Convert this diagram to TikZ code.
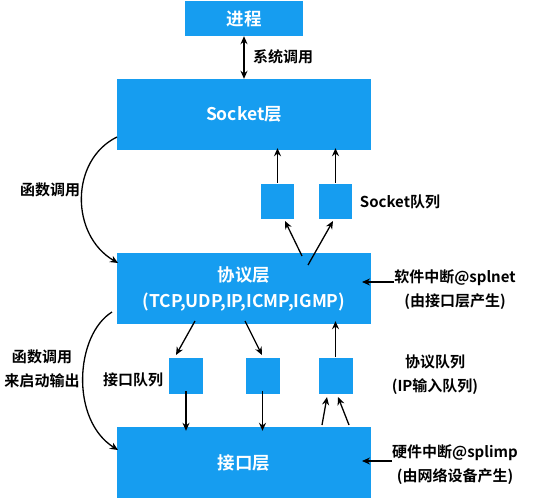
\documentclass[tikz,border=0pt]{standalone}
\usepackage{fontspec}
\setmainfont{Noto Sans CJK SC}[BoldFont={Noto Sans CJK SC Bold}]
\usetikzlibrary{arrows.meta}
\definecolor{boxblue}{RGB}{22,157,240}
\begin{document}
\begin{tikzpicture}[x=1pt,y=-1pt,
  layer/.style={fill=boxblue,draw=none,inner sep=0pt,text=white,font=\fontsize{17.5}{26}\selectfont\bfseries,align=center},
  qbox/.style={fill=boxblue,draw=none,inner sep=0pt,minimum width=33pt,minimum height=35pt},
  lbl/.style={inner sep=0pt,text=black,font=\fontsize{15}{24}\selectfont\bfseries,align=center},
  conn/.style={line width=1.3pt,-{Stealth[length=8pt,width=7pt]}},
  both/.style={line width=1.3pt,{Stealth[length=8pt,width=7pt]}-{Stealth[length=8pt,width=7pt]}}]
\useasboundingbox (0,0) rectangle (553,500);
% layer boxes
\node[layer,minimum width=118pt,minimum height=35pt] (proc) at (244,18.5) {进程};
\node[layer,minimum width=254pt,minimum height=71pt] (sock) at (244,114.5) {Socket层};
\node[layer,minimum width=254pt,minimum height=71pt] (proto) at (244,288.5) {协议层\\(TCP,UDP,IP,ICMP,IGMP)};
\node[layer,minimum width=254pt,minimum height=71pt] (iface) at (244,462.5) {接口层};
% queues
\node[qbox] (sq1) at (277.5,201.5) {};
\node[qbox] (sq2) at (335.5,201.5) {};
\node[qbox,minimum width=34pt,minimum height=36pt] (iq1) at (186,376) {};
\node[qbox,minimum width=34pt,minimum height=36pt] (iq2) at (262.5,376) {};
\node[qbox,minimum width=34pt,minimum height=36pt] (iq3) at (335.5,376) {};
% labels
\node[lbl] (lsys) at (283,57) {系统调用};
\node[lbl] (lfn1) at (50,190) {函数调用};
\node[lbl] (lsq) at (400,202) {Socket队列};
\node[lbl] (lsoft) at (455,289.5) {软件中断@splnet\\(由接口层产生)};
\node[lbl] (liq) at (133,380) {接口队列};
\node[lbl] (lfn2) at (42,368.5) {函数调用\\来启动输出};
\node[lbl] (lpq) at (435,375) {协议队列\\(IP输入队列)};
\node[lbl] (lhard) at (455,464.5) {硬件中断@splimp\\(由网络设备产生)};
% coordinates
\coordinate (s1) at (302,256);
\coordinate (s2) at (308,265);
\coordinate (e1) at (285,221);
\coordinate (e2) at (333,221);
\coordinate (b1) at (195,321);
\coordinate (b2) at (245,321);
\coordinate (f1) at (176,355);
\coordinate (f2) at (262,355);
\coordinate (u1) at (322,425);
\coordinate (u2) at (349,425);
\coordinate (v1) at (327,397);
\coordinate (v2) at (338,397);
\coordinate (softtip) at (362,282);
\coordinate (hardtip) at (362,461);
\coordinate (c1s) at (117,137);
\coordinate (c1e) at (118,263);
\coordinate (c2s) at (112,312);
\coordinate (c2e) at (118,450);
% connectors
\draw[both] (proc.south) -- (sock.north);
\draw[conn] ([yshift=1pt]sq1.north) -- ([yshift=2pt]sq1.north |- sock.south);
\draw[conn] ([yshift=1pt]sq2.north) -- ([yshift=2pt]sq2.north |- sock.south);
\draw[conn] (s1) -- (e1);
\draw[conn] (s2) -- (e2);
\draw[conn] (b1) -- (f1);
\draw[conn] (b2) -- (f2);
\draw[conn] ([yshift=1pt]iq3.north) -- ([yshift=3pt]iq3.north |- proto.south);
\draw[conn] ([yshift=3pt]iq1.south) -- ([yshift=-4pt]iq1.south |- iface.north);
\draw[conn] ([yshift=3pt]iq2.south) -- ([yshift=-4pt]iq2.south |- iface.north);
\draw[conn] (u1) -- (v1);
\draw[conn] (u2) -- (v2);
\draw[conn] (lsoft.west |- softtip) -- (softtip);
\draw[conn] (lhard.west |- hardtip) -- (hardtip);
\draw[conn] (c1s) .. controls (70,160) and (70,235) .. (c1e);
\draw[conn] (c2s) .. controls (75,335) and (70,420) .. (c2e);
\end{tikzpicture}
\end{document}
